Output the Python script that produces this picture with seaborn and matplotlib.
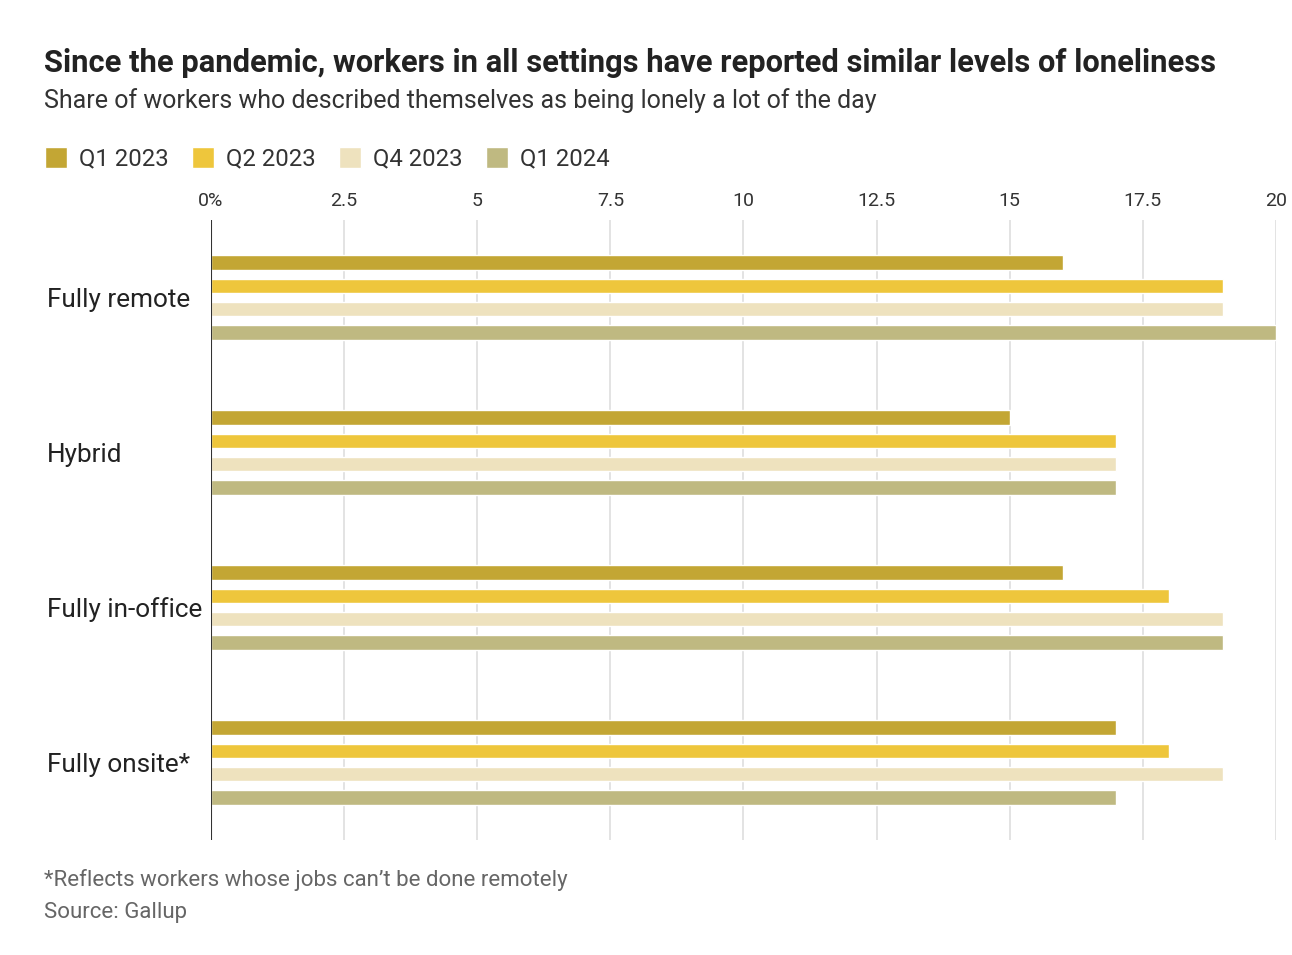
import matplotlib.pyplot as plt
import pandas as pd
import seaborn as sns
from matplotlib.patches import Patch

# data
settings = ["Fully remote", "Hybrid", "Fully in-office", "Fully onsite*"]
quarters = ["Q1 2023", "Q2 2023", "Q4 2023", "Q1 2024"]
q1_2023 = [16, 15, 16, 17]
q2_2023 = [19, 17, 18, 18]
q4_2023 = [19, 17, 19, 19]
q1_2024 = [20, 17, 19, 17]
colors = ["#C3A634", "#EEC63C", "#EEE2BE", "#BFB981"]

rows = []
for q, vals in zip(quarters, [q1_2023, q2_2023, q4_2023, q1_2024]):
    for s, v in zip(settings, vals):
        rows.append({"setting": s, "quarter": q, "share": v})
df = pd.DataFrame(rows)

sns.set_theme(style="white")
plt.rcParams["font.family"] = ["Roboto", "DejaVu Sans"]

fig = plt.figure(figsize=(12.92, 9.55), dpi=100)
ax = fig.add_axes([0.1633, 0.1204, 0.8243, 0.6492])

sns.barplot(
    data=df, y="setting", x="share", hue="quarter",
    order=settings, hue_order=quarters, palette=colors, saturation=1,
    width=0.6, gap=0.38, orient="h", legend=False, ax=ax,
)

ax.set_xlim(0, 20)
ax.set_ylim(3.5, -0.5)
ax.set_xticks([0, 2.5, 5, 7.5, 10, 12.5, 15, 17.5, 20])
ax.set_xticklabels(["0%", "2.5", "5", "7.5", "10", "12.5", "15", "17.5", "20"])
ax.xaxis.tick_top()
ax.tick_params(axis="x", length=0, pad=7, labelsize=14, labelcolor="#333333")
ax.tick_params(axis="y", length=0, pad=118, labelsize=18.8, labelcolor="#222222")
for lbl in ax.get_yticklabels():
    lbl.set_ha("left")
ax.set_xlabel("")
ax.set_ylabel("")
ax.grid(axis="x", color="#e0e0e0", linewidth=1.3)
ax.set_axisbelow(True)
for sp in ax.spines.values():
    sp.set_visible(False)
ax.axvline(0, color="#333333", linewidth=1.5)

fig.text(0.034, 0.934, "Since the pandemic, workers in all settings have reported similar levels of loneliness",
         fontsize=22.2, fontweight="bold", color="#222222", va="center")
fig.text(0.034, 0.895, "Share of workers who described themselves as being lonely a lot of the day",
         fontsize=18, color="#333333", va="center")

handles = [Patch(facecolor=c, label=q) for c, q in zip(colors, quarters)]
fig.legend(handles=handles, loc="center left", bbox_to_anchor=(0.018, 0.8335),
           ncol=4, frameon=False, fontsize=17.2, handlelength=0.95, handleheight=0.95,
           handletextpad=0.5, columnspacing=0.95, labelcolor="#333333")

fig.text(0.034, 0.0785, "*Reflects workers whose jobs can\u2019t be done remotely",
         fontsize=16, color="#666666", va="center")
fig.text(0.034, 0.045, "Source: Gallup", fontsize=16, color="#666666", va="center")

fig.savefig("out.png", dpi=100)
